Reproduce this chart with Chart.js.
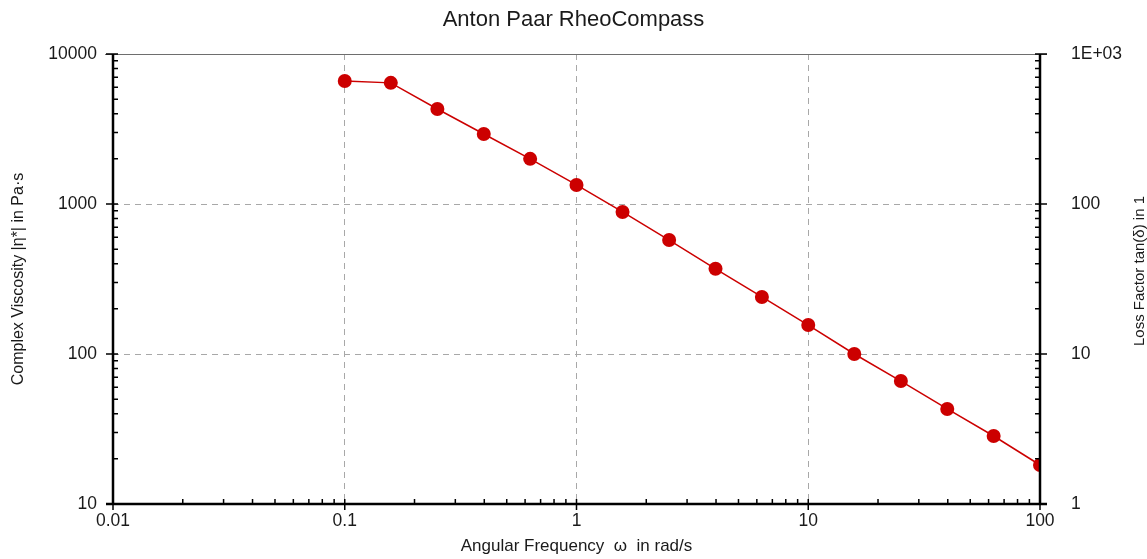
<!DOCTYPE html>
<html>
<head>
<meta charset="utf-8">
<script src="https://cdn.jsdelivr.net/npm/chart.js@4/dist/chart.umd.min.js"></script>
<style>
    html, body { margin: 0; padding: 0; background: #fff; }
    #wrap { width: 1147px; height: 559px; }
</style>
</head>
<body>
<div id="wrap"><canvas id="rheo"></canvas></div>
<script>
// =====================
// DATA
// =====================
const freq = [0.1, 0.158, 0.251, 0.398, 0.631, 1, 1.58, 2.51, 3.98, 6.31, 10, 15.8, 25.1, 39.8, 63.1, 100];
const viscosity = [6600, 6420, 4300, 2930, 2000, 1340, 885, 575, 370, 240, 156, 100, 66, 43, 28.4, 18.2];

const xTicks = [0.01, 0.1, 1, 10, 100];
const xLabels = ["0.01", "0.1", "1", "10", "100"];
const yTicks = [10, 100, 1000, 10000];
const yLabels = ["10", "100", "1000", "10000"];
const y2Ticks = [1, 10, 100, 1000];
const y2Labels = ["1", "10", "100", "1E+03"];

const FONT = "'Liberation Sans', Arial, sans-serif";
const RED = "#cc0000";
const TEXT = "#1a1a1a";

function fixTicks(values) {
    return scale => { scale.ticks = values.map(v => ({ value: v })); };
}

function labelFrom(values, labels) {
    return (v) => {
        let i = values.findIndex(t => Math.abs(Math.log10(t) - Math.log10(v)) < 1e-6);
        return i >= 0 ? labels[i] : "";
    };
}

function innerGrid(values) {
    // dashed grid only on inner decades, edges are the axes
    return ctx => {
        let v = ctx.tick ? ctx.tick.value : null;
        if (v === values[0] || v === values[values.length - 1]) return "rgba(0,0,0,0)";
        return "#a8a8a8";
    };
}

// =====================
// FRAME + INWARD TICKS
// =====================
const framePlugin = {
    id: "frame",
    afterDraw(chart) {
        const { ctx, chartArea: a, scales } = chart;
        const x = scales.x, y = scales.y;
        ctx.save();

        // top line (thin grey)
        ctx.strokeStyle = "#6e6e6e";
        ctx.lineWidth = 1;
        ctx.beginPath();
        ctx.moveTo(a.left - 8, a.top + 0.5);
        ctx.lineTo(a.right + 7, a.top + 0.5);
        ctx.stroke();

        // left, bottom, right axes
        ctx.strokeStyle = "#000";
        ctx.lineWidth = 2.5;
        ctx.beginPath();
        ctx.moveTo(a.left, a.top);
        ctx.lineTo(a.left, a.bottom);
        ctx.moveTo(a.left - 7, a.bottom);
        ctx.lineTo(a.right + 7, a.bottom);
        ctx.moveTo(a.right, a.top);
        ctx.lineTo(a.right, a.bottom);
        ctx.stroke();

        ctx.lineWidth = 1.5;
        ctx.beginPath();
        // x ticks
        for (let d = 0; d < xTicks.length; d++) {
            let px = x.getPixelForValue(xTicks[d]);
            ctx.moveTo(px, a.bottom - 5);
            ctx.lineTo(px, a.bottom + 6);
            if (d === xTicks.length - 1) break;
            for (let m = 2; m <= 9; m++) {
                let mx = x.getPixelForValue(xTicks[d] * m);
                ctx.moveTo(mx, a.bottom);
                ctx.lineTo(mx, a.bottom - 5);
            }
        }
        // y ticks (both sides share the same decades)
        for (let d = 0; d < yTicks.length; d++) {
            let py = y.getPixelForValue(yTicks[d]);
            ctx.moveTo(a.left - 7, py);
            ctx.lineTo(a.left + 5, py);
            ctx.moveTo(a.right - 5, py);
            ctx.lineTo(a.right + 7, py);
            if (d === yTicks.length - 1) break;
            for (let m = 2; m <= 9; m++) {
                let my = y.getPixelForValue(yTicks[d] * m);
                ctx.moveTo(a.left, my);
                ctx.lineTo(a.left + 5, my);
                ctx.moveTo(a.right, my);
                ctx.lineTo(a.right - 5, my);
            }
        }
        ctx.stroke();

        // right axis title, reading bottom to top
        ctx.fillStyle = TEXT;
        ctx.font = "15px " + FONT;
        ctx.textAlign = "center";
        ctx.textBaseline = "middle";
        ctx.translate(1140, 271);
        ctx.rotate(-Math.PI / 2);
        ctx.fillText("Loss Factor tan(\u03B4) in 1", 0, 0);
        ctx.restore();
    }
};

// =====================
// CHART
// =====================
new Chart(document.getElementById("rheo"), {
    type: "line",
    data: {
        datasets: [{
            data: freq.map((f, i) => ({ x: f, y: viscosity[i] })),
            borderColor: RED,
            backgroundColor: RED,
            borderWidth: 1.5,
            pointRadius: 7,
            pointHoverRadius: 7,
            pointBorderWidth: 0,
            tension: 0,
            yAxisID: "y"
        }]
    },
    options: {
        responsive: true,
        maintainAspectRatio: false,
        animation: false,
        layout: { padding: 0 },
        plugins: {
            legend: { display: false },
            tooltip: { enabled: false },
            title: {
                display: true,
                text: "Anton Paar RheoCompass",
                color: TEXT,
                font: { family: FONT, size: 22, weight: "normal" },
                padding: { top: 7, bottom: 20.6 }
            }
        },
        scales: {
            x: {
                type: "logarithmic",
                min: 0.01,
                max: 100,
                afterBuildTicks: fixTicks(xTicks),
                afterFit: s => { s.height = 55; },
                border: { display: false, dash: [6, 5] },
                grid: { drawTicks: false, color: innerGrid(xTicks), lineWidth: 1 },
                ticks: {
                    autoSkip: false,
                    maxRotation: 0,
                    padding: 7,
                    color: TEXT,
                    font: { family: FONT, size: 17.5 },
                    callback: labelFrom(xTicks, xLabels)
                },
                title: {
                    display: true,
                    text: "Angular Frequency  \u03C9  in rad/s",
                    color: TEXT,
                    font: { family: FONT, size: 17 },
                    padding: { top: 2, bottom: 2 }
                }
            },
            y: {
                type: "logarithmic",
                position: "left",
                min: 10,
                max: 10000,
                afterBuildTicks: fixTicks(yTicks),
                afterFit: s => { s.width = 113; },
                border: { display: false, dash: [6, 5] },
                grid: { drawTicks: false, color: innerGrid(yTicks), lineWidth: 1 },
                ticks: {
                    autoSkip: false,
                    padding: 16,
                    color: TEXT,
                    font: { family: FONT, size: 17.5 },
                    callback: labelFrom(yTicks, yLabels)
                },
                title: {
                    display: true,
                    text: "Complex Viscosity |\u03B7*| in Pa\u00B7s",
                    color: TEXT,
                    font: { family: FONT, size: 16 },
                    padding: { top: 9, bottom: 0 }
                }
            },
            y2: {
                type: "logarithmic",
                position: "right",
                min: 1,
                max: 1000,
                afterBuildTicks: fixTicks(y2Ticks),
                afterFit: s => { s.width = 107; },
                border: { display: false },
                grid: { display: false, drawTicks: false },
                ticks: {
                    autoSkip: false,
                    padding: 31,
                    color: TEXT,
                    font: { family: FONT, size: 17.5 },
                    callback: labelFrom(y2Ticks, y2Labels)
                }
            }
        }
    },
    plugins: [framePlugin]
});
</script>
</body>
</html>
